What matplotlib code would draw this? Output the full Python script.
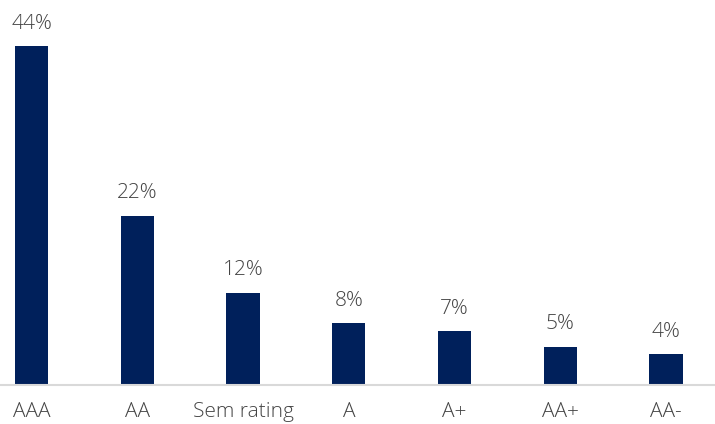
import matplotlib.pyplot as plt

categories = ['AAA', 'AA', 'Sem rating', 'A', 'A+', 'AA+', 'AA-']
values = [44, 22, 12, 8, 7, 5, 4]

bar_color = '#00205b'
text_color = '#444444'

plt.rcParams['font.family'] = ['Open Sans', 'DejaVu Sans']

fig = plt.figure(figsize=(7.15, 4.24), dpi=100)
ax = fig.add_axes([0, 39 / 424, 1, 385 / 424])

x = list(range(len(categories)))
bars = ax.bar(x, values, width=0.315, color=bar_color)

# etiquetas de valor acima das barras
for xi, v in zip(x, values):
    ax.annotate(f'{v}%', xy=(xi, v), xytext=(0, 9), textcoords='offset points',
                ha='center', va='bottom', fontsize=15, color=text_color,
                fontweight='light')

ax.set_xlim(-0.30, 6.465)
ax.set_ylim(0, 50)
ax.set_xticks(x)
ax.set_xticklabels(categories, fontsize=15, color=text_color, fontweight='light')
ax.tick_params(axis='x', length=0, pad=12)
ax.set_yticks([])

for side in ['top', 'right', 'left']:
    ax.spines[side].set_visible(False)
ax.spines['bottom'].set_color('#d9d9d9')
ax.spines['bottom'].set_linewidth(1.5)

fig.savefig('out.png', dpi=100)
